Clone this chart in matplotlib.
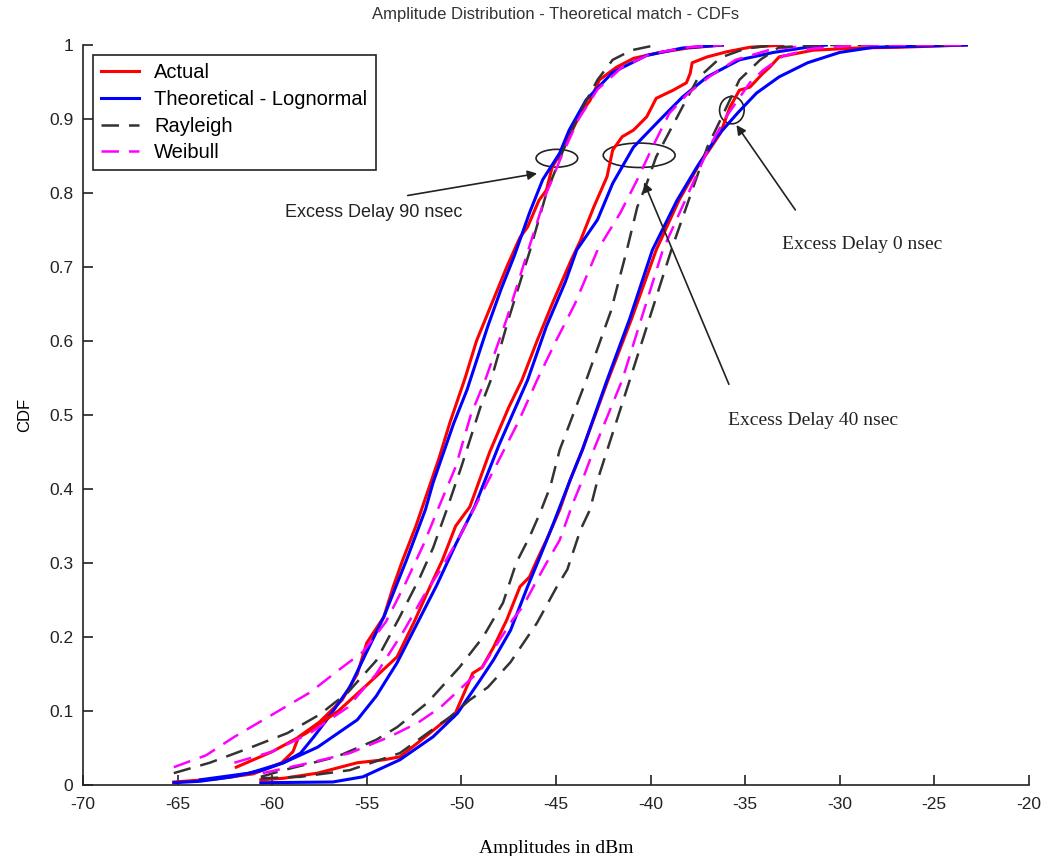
import matplotlib
matplotlib.use("Agg")
import matplotlib.pyplot as plt
from matplotlib.patches import Ellipse

plt.rcParams["axes.unicode_minus"] = False

# ---- data (x = amplitude dBm, y = CDF) ----
# Excess delay 90 nsec
act90_x = [-65.2, -63.0, -61.0, -59.5, -58.9, -58.6, -57.5, -56.3, -55.5, -55.0, -54.1, -53.6, -53.1,
           -52.4, -52.0, -51.2, -50.6, -49.8, -49.2, -48.4, -47.6, -46.9, -46.5, -45.9, -45.5, -45.2,
           -44.6, -43.7, -43.2, -42.7, -41.8, -40.9, -39.5, -38.0, -36.2]
act90_y = [0.004, 0.008, 0.015, 0.030, 0.045, 0.065, 0.085, 0.115, 0.150, 0.192, 0.227, 0.268, 0.304,
           0.350, 0.380, 0.440, 0.490, 0.550, 0.600, 0.650, 0.700, 0.740, 0.754, 0.790, 0.804, 0.835,
           0.860, 0.908, 0.925, 0.953, 0.970, 0.982, 0.990, 0.996, 1.000]
logn90_x = [-65.2, -63.8, -62.1, -60.5, -59.4, -58.5, -57.8, -57.0, -55.9, -55.0, -54.1, -52.9, -51.9,
            -51.5, -50.4, -49.7, -48.6, -47.9, -47.2, -46.4, -45.7, -44.8, -44.3, -43.4, -42.0, -40.2,
            -38.3, -36.2]
logn90_y = [0.003, 0.005, 0.011, 0.020, 0.030, 0.043, 0.065, 0.092, 0.132, 0.180, 0.227, 0.304, 0.372,
            0.408, 0.489, 0.534, 0.620, 0.670, 0.715, 0.773, 0.818, 0.854, 0.885, 0.926, 0.963, 0.986,
            0.996, 1.000]
ray90_x = [-65.2, -63.3, -61.2, -59.2, -57.5, -56.0, -54.5, -53.3, -52.2, -51.5, -50.8, -50.0, -49.0,
           -48.4, -47.5, -46.4, -45.5, -44.4, -43.5, -42.8, -42.0, -41.0, -39.7]
ray90_y = [0.016, 0.030, 0.050, 0.070, 0.095, 0.125, 0.168, 0.225, 0.280, 0.320, 0.370, 0.430, 0.510,
           0.550, 0.630, 0.720, 0.800, 0.872, 0.920, 0.953, 0.980, 0.993, 1.000]
weib90_x = [-65.2, -63.5, -62.0, -60.0, -58.0, -56.5, -55.2, -54.0, -53.0, -52.0, -51.2, -50.3, -49.5,
            -48.7, -47.6, -46.5, -45.5, -44.7, -43.8, -42.8, -41.5, -40.0, -38.0, -36.2]
weib90_y = [0.024, 0.040, 0.065, 0.095, 0.125, 0.155, 0.180, 0.220, 0.270, 0.325, 0.375, 0.430, 0.500,
            0.550, 0.630, 0.720, 0.800, 0.850, 0.900, 0.940, 0.970, 0.988, 0.997, 1.000]

# Excess delay 40 nsec
act40_x = [-61.9, -60.0, -58.2, -56.5, -55.0, -53.4, -52.5, -51.8, -51.0, -50.3, -49.55, -48.5, -47.5,
           -46.8, -46.0, -45.2, -44.2, -43.7, -43.0, -42.3, -42.0, -41.5, -40.9, -40.2, -39.7, -38.8,
           -38.1, -37.9, -37.8, -37.0, -35.95, -34.75, -33.0]
act40_y = [0.024, 0.045, 0.070, 0.100, 0.135, 0.173, 0.220, 0.260, 0.304, 0.350, 0.376, 0.450, 0.510,
           0.547, 0.600, 0.650, 0.709, 0.736, 0.781, 0.822, 0.858, 0.876, 0.885, 0.903, 0.928, 0.939,
           0.949, 0.962, 0.976, 0.984, 0.991, 0.997, 1.000]
logn40_x = [-63.8, -61.2, -59.4, -57.6, -55.5, -54.5, -53.4, -52.3, -51.3, -50.3, -49.3, -48.0, -46.5,
            -45.5, -44.5, -43.9, -42.8, -42.0, -40.9, -39.5, -38.3, -37.0, -35.3, -33.5, -31.7, -30.7]
logn40_y = [0.007, 0.016, 0.030, 0.051, 0.088, 0.120, 0.165, 0.220, 0.270, 0.325, 0.376, 0.460, 0.547,
            0.620, 0.680, 0.723, 0.764, 0.813, 0.862, 0.899, 0.930, 0.957, 0.980, 0.990, 0.997, 1.000]
ray40_x = [-60.6, -59.4, -56.6, -54.5, -53.4, -51.8, -50.1, -48.85, -47.8, -47.1, -46.4, -45.85, -45.3,
           -44.8, -43.4, -42.1, -41.25, -40.7, -40.2, -39.7, -38.4, -37.5, -36.3, -35.0, -33.5]
ray40_y = [0.011, 0.020, 0.038, 0.061, 0.078, 0.111, 0.159, 0.200, 0.246, 0.300, 0.335, 0.367, 0.403,
           0.453, 0.547, 0.640, 0.723, 0.781, 0.813, 0.849, 0.912, 0.955, 0.983, 0.995, 1.000]
weib40_x = [-62.0, -60.0, -58.0, -56.0, -54.5, -53.0, -52.0, -51.0, -50.0, -49.0, -48.0, -47.0, -46.0,
            -45.0, -44.0, -42.8, -41.6, -40.7, -39.9, -39.0, -38.0, -36.9, -35.5, -33.5, -31.0]
weib40_y = [0.030, 0.045, 0.070, 0.105, 0.150, 0.210, 0.255, 0.295, 0.340, 0.390, 0.440, 0.490, 0.547,
            0.600, 0.650, 0.723, 0.773, 0.818, 0.862, 0.908, 0.935, 0.957, 0.980, 0.995, 1.000]

# Excess delay 0 nsec
act0_x = [-60.6, -59.4, -57.6, -55.5, -54.1, -53.25, -52.3, -51.0, -50.4, -49.4, -48.9, -48.3, -47.6,
          -46.9, -46.4, -46.0, -45.5, -44.8, -44.25, -43.6, -42.25, -41.0, -39.7, -38.5, -37.4, -36.9,
          -36.3, -35.8, -35.3, -34.75, -34.05, -33.7, -33.2, -31.4, -29.1, -26.8, -23.3]
act0_y = [0.007, 0.009, 0.016, 0.030, 0.034, 0.038, 0.057, 0.084, 0.092, 0.151, 0.159, 0.186, 0.223,
          0.268, 0.281, 0.304, 0.331, 0.372, 0.412, 0.453, 0.547, 0.630, 0.723, 0.790, 0.840, 0.858,
          0.881, 0.916, 0.939, 0.943, 0.962, 0.970, 0.984, 0.993, 0.996, 0.997, 1.000]
logn0_x = [-60.6, -56.8, -55.2, -53.25, -51.5, -50.2, -49.0, -48.3, -47.4, -46.5, -45.85, -45.2, -44.25,
           -43.6, -42.3, -41.1, -39.9, -38.6, -37.55, -36.5, -35.4, -34.4, -33.2, -31.7, -30.0, -28.2,
           -23.3]
logn0_y = [0.003, 0.004, 0.011, 0.034, 0.065, 0.097, 0.142, 0.169, 0.209, 0.268, 0.308, 0.349, 0.412,
           0.453, 0.547, 0.630, 0.723, 0.790, 0.835, 0.876, 0.908, 0.935, 0.957, 0.976, 0.990, 0.997,
           1.000]
ray0_x = [-60.6, -58.5, -55.9, -53.25, -50.6, -49.55, -48.6, -47.4, -46.0, -44.95, -44.4, -43.7, -43.2,
          -42.8, -41.1, -38.9, -37.0, -36.3, -35.3, -34.2, -33.2, -31.0, -23.3]
ray0_y = [0.009, 0.011, 0.020, 0.043, 0.092, 0.115, 0.132, 0.166, 0.219, 0.268, 0.291, 0.345, 0.372,
          0.412, 0.547, 0.723, 0.862, 0.899, 0.953, 0.980, 0.997, 1.000, 1.000]
weib0_x = [-60.5, -58.0, -55.9, -53.8, -52.3, -51.1, -49.0, -47.3, -46.75, -46.0, -45.5, -44.8, -44.1,
           -43.6, -43.0, -41.5, -39.35, -36.9, -36.0, -34.75, -34.05, -33.0, -31.5, -29.0, -23.3]
weib0_y = [0.016, 0.030, 0.043, 0.065, 0.084, 0.105, 0.155, 0.223, 0.241, 0.277, 0.300, 0.331, 0.381,
           0.412, 0.453, 0.547, 0.723, 0.862, 0.903, 0.949, 0.966, 0.985, 0.995, 1.000, 1.000]

sans = ["Liberation Sans", "DejaVu Sans"]
serif = ["Liberation Serif", "DejaVu Serif"]

fig = plt.figure(figsize=(10.44, 8.56), dpi=100)
ax = fig.add_axes([0.0795, 0.083, 0.906, 0.8644])

red, blue, blk, mag = "#ff0000", "#0000ff", "#333333", "#ff00ff"
dash = (0, (7, 4))

groups = [
    (act90_x, act90_y, logn90_x, logn90_y, ray90_x, ray90_y, weib90_x, weib90_y),
    (act40_x, act40_y, logn40_x, logn40_y, ray40_x, ray40_y, weib40_x, weib40_y),
    (act0_x, act0_y, logn0_x, logn0_y, ray0_x, ray0_y, weib0_x, weib0_y),
]
for i, (ax_, ay_, lx, ly, rx, ry, wx, wy) in enumerate(groups):
    ax.plot(ax_, ay_, color=red, lw=2.2, label="Actual" if i == 0 else None)
    ax.plot(lx, ly, color=blue, lw=2.2, label="Theoretical - Lognormal" if i == 0 else None)
    ax.plot(rx, ry, color=blk, lw=1.8, linestyle=dash, label="Rayleigh" if i == 0 else None)
    ax.plot(wx, wy, color=mag, lw=1.8, linestyle=dash, label="Weibull" if i == 0 else None)

ax.set_xlim(-70, -20)
ax.set_ylim(0, 1)
ax.set_xticks(range(-70, -19, 5))
ax.set_yticks([i / 10 for i in range(11)])
ax.set_yticklabels(["0"] + ["0.%d" % i for i in range(1, 10)] + ["1"])
ax.spines["top"].set_visible(False)
ax.spines["right"].set_visible(False)
for s in ("left", "bottom"):
    ax.spines[s].set_linewidth(1.2)
    ax.spines[s].set_color("#222222")
ax.tick_params(direction="in", length=7, width=1.2, labelsize=12.5, colors="#222222")
ax.tick_params(axis="x", pad=9)
ax.tick_params(axis="y", pad=7)
for lab in ax.get_xticklabels() + ax.get_yticklabels():
    lab.set_family(sans)

ax.set_title("Amplitude Distribution - Theoretical match - CDFs", fontsize=12,
             family=sans, color="#333333", pad=19)
ax.set_xlabel("Amplitudes in dBm", fontsize=14, family=serif, labelpad=20)
ax.set_ylabel("CDF", fontsize=12, family=sans, labelpad=12)

leg = ax.legend(loc="upper left", bbox_to_anchor=(0.0105, 0.986), prop={"family": sans, "size": 14.5},
                handlelength=1.9, fancybox=False, framealpha=1, edgecolor="#222222",
                borderpad=0.4, labelspacing=0.38, handletextpad=0.75, borderaxespad=0)
leg.get_frame().set_linewidth(1.2)

# ellipses marking the three delays
for (cx, cy, w, h) in [(-44.95, 0.847, 2.2, 0.024), (-40.6, 0.851, 3.8, 0.033), (-35.7, 0.912, 1.3, 0.037)]:
    ax.add_patch(Ellipse((cx, cy), w, h, fill=False, edgecolor="#222222", lw=1.2))

arrow = dict(arrowstyle="-|>", color="#222222", lw=1.2, mutation_scale=14)
ax.annotate("", xy=(-45.85, 0.827), xytext=(-52.98, 0.796), arrowprops=arrow)
ax.annotate("", xy=(-40.4, 0.818), xytext=(-35.8, 0.538), arrowprops=arrow)
ax.annotate("", xy=(-35.54, 0.895), xytext=(-32.26, 0.774), arrowprops=arrow)

ax.text(-59.3, 0.774, "Excess Delay 90 nsec", fontsize=13, family=sans, va="center", color="#222222")
ax.text(-35.9, 0.493, "Excess Delay 40 nsec", fontsize=14, family=serif, va="center", color="#222222")
ax.text(-33.05, 0.730, "Excess Delay 0 nsec", fontsize=14, family=serif, va="center", color="#222222")

fig.savefig("out.png", dpi=100)
